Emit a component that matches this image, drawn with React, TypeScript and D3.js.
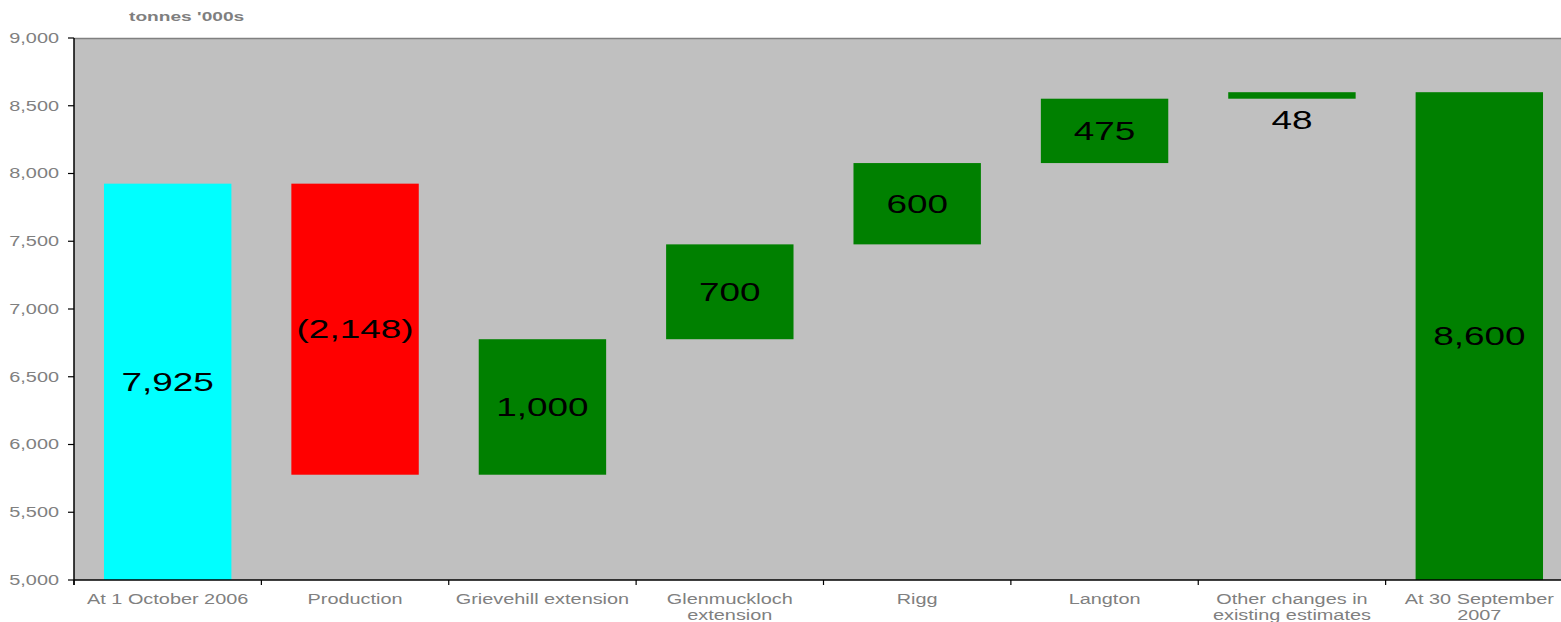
import React from "react";
import * as d3 from "d3";

const categories: string[][] = [
  ["At 1 October 2006"],
  ["Production"],
  ["Grievehill extension"],
  ["Glenmuckloch", "extension"],
  ["Rigg"],
  ["Langton"],
  ["Other changes in", "existing estimates"],
  ["At 30 September", "2007"],
];
const changes: number[] = [7925, -2148, 1000, 700, 600, 475, 48, 8600];
const kinds: string[] = ["total", "delta", "delta", "delta", "delta", "delta", "delta", "total"];
const labels: string[] = ["7,925", "(2,148)", "1,000", "700", "600", "475", "48", "8,600"];
const barColors: string[] = ["#00FFFF", "#FF0000", "#008000", "#008000", "#008000", "#008000", "#008000", "#008000"];
const yTicks: number[] = [5000, 5500, 6000, 6500, 7000, 7500, 8000, 8500, 9000];
const yMin = 5000;
const yMax = 9000;

const SX = 1.42;

export default function App() {
  const W = 1561, H = 622;
  const left = 74, top = 38, bottom = 580, right = 1573;
  const x = d3.scaleBand<number>().domain(d3.range(categories.length)).range([left, right]).paddingInner(0.32).paddingOuter(0.16);
  const step = x.step();
  const y = d3.scaleLinear().domain([yMin, yMax]).range([bottom, top]);

  let running = 0;
  const bars = changes.map((v, i) => {
    let lo: number, hi: number;
    if (kinds[i] === "total") {
      lo = yMin; hi = v; running = v;
    } else {
      const start = running; running = start + v;
      lo = Math.min(start, running); hi = Math.max(start, running);
    }
    return { i, lo, hi };
  });

  const fmt = d3.format(",");
  const tickFill = "#808080";
  const font = "'Liberation Sans', Arial, sans-serif";

  return (
    <svg width={W} height={H} style={{ position: "absolute", left: 0, top: 0 }}>
      <rect x={0} y={0} width={W} height={H} fill="#fff" />
      <rect x={left} y={top} width={right - left} height={bottom - top} fill="#C0C0C0" />
      <line x1={left} x2={right} y1={top + 0.5} y2={top + 0.5} stroke="#808080" strokeWidth={1.5} />
      {bars.map((b) => (
        <rect key={b.i} x={x(b.i)} y={y(b.hi)} width={x.bandwidth()} height={y(b.lo) - y(b.hi)} fill={barColors[b.i]} />
      ))}
      {bars.map((b) => {
        const cx = (x(b.i) as number) + x.bandwidth() / 2;
        const small = y(b.lo) - y(b.hi) < 30;
        const cy = small ? y(b.lo) + 21 : (y(b.lo) + y(b.hi)) / 2;
        return (
          <text key={b.i} transform={`translate(${cx},${cy}) scale(${SX},1)`} textAnchor="middle" dominantBaseline="central"
            fontFamily={font} fontSize={26} fill="#000">{labels[b.i]}</text>
        );
      })}
      <line x1={left} x2={right} y1={bottom} y2={bottom} stroke="#000" strokeWidth={1.5} />
      <line x1={left} x2={left} y1={top} y2={bottom + 5} stroke="#000" strokeWidth={1.5} />
      {yTicks.map((t) => (
        <g key={t}>
          <line x1={left - 6} x2={left} y1={y(t)} y2={y(t)} stroke="#000" strokeWidth={1.2} />
          <text transform={`translate(${left - 15},${y(t)}) scale(${SX},1)`} textAnchor="end" dominantBaseline="central"
            fontFamily={font} fontSize={14} fill={tickFill}>{fmt(t)}</text>
        </g>
      ))}
      {d3.range(categories.length + 1).map((i) => (
        <line key={i} x1={left + i * step} x2={left + i * step} y1={bottom} y2={bottom + 5} stroke="#000" strokeWidth={1.2} />
      ))}
      {categories.map((lines, i) => {
        const cx = left + (i + 0.5) * step;
        return lines.map((ln, j) => (
          <text key={`${i}-${j}`} transform={`translate(${cx},${604 + j * 16}) scale(${SX},1)`} textAnchor="middle"
            fontFamily={font} fontSize={14} fill={tickFill}>{ln}</text>
        ));
      })}
      <text transform={`translate(129,21) scale(${SX},1)`} fontFamily={font} fontSize={13.5} fontWeight="bold" fill="#7f7f7f">tonnes '000s</text>
    </svg>
  );
}
